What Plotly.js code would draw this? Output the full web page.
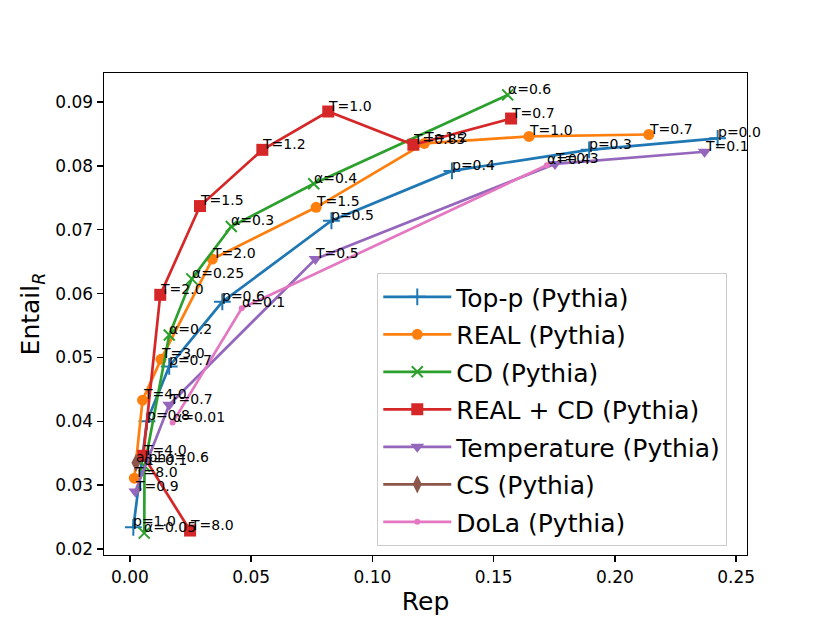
<!DOCTYPE html>
<html>
<head>
<meta charset="utf-8">
<script src="https://cdn.plot.ly/plotly-3.0.1.min.js"></script>
<style>html,body{margin:0;padding:0;background:#fff;}#chart{width:830px;height:623px;}</style>
</head>
<body>
<div id="chart"></div>
<script>
// ---- data (Rep, Entail_R) ----
const topP_x = [0.0014, 0.0070, 0.0162, 0.0381, 0.0831, 0.1328, 0.1894, 0.2424];
const topP_y = [0.0234, 0.0400, 0.0486, 0.0587, 0.0714, 0.0792, 0.0825, 0.0843];
const topP_labels = ["p=1.0", "p=0.8", "p=0.7", "p=0.6", "p=0.5", "p=0.4", "p=0.3", "p=0.0"];

const real_x = [0.0018, 0.0052, 0.0128, 0.0340, 0.0768, 0.1214, 0.1646, 0.2140];
const real_y = [0.0311, 0.0433, 0.0497, 0.0654, 0.0735, 0.0835, 0.0846, 0.0849];
const real_labels = ["T=8.0", "T=4.0", "T=3.0", "T=2.0", "T=1.5", "T=1.2", "T=1.0", "T=0.7"];

const cd_x = [0.0059, 0.0060, 0.0162, 0.0255, 0.0418, 0.0758, 0.1558];
const cd_y = [0.0225, 0.0330, 0.0535, 0.0623, 0.0705, 0.0772, 0.0911];
const cd_labels = ["α=0.05", "α=0.1", "α=0.2", "α=0.25", "α=0.3", "α=0.4", "α=0.6"];

const realcd_x = [0.0248, 0.0055, 0.0125, 0.0289, 0.0546, 0.0818, 0.1169, 0.1572];
const realcd_y = [0.0229, 0.0346, 0.0598, 0.0737, 0.0825, 0.0885, 0.0833, 0.0874];
const realcd_labels = ["T=8.0", "T=4.0", "T=2.0", "T=1.5", "T=1.2", "T=1.0", "T=0.85", "T=0.7"];

const temp_x = [0.0022, 0.0162, 0.0765, 0.1753, 0.2370];
const temp_y = [0.0290, 0.0426, 0.0654, 0.0803, 0.0822];
const temp_labels = ["T=0.9", "T=0.7", "T=0.5", "T=0.3", "T=0.1"];

const cs_x = [0.0025];
const cs_y = [0.0335];
const cs_labels = ["alpha=0.6"];

const dola_x = [0.0176, 0.0461, 0.1719];
const dola_y = [0.0398, 0.0577, 0.0801];
const dola_labels = ["α=0.01", "α=0.1", "α=0.4"];

const seriesNames = ["Top-p (Pythia)", "REAL (Pythia)", "CD (Pythia)", "REAL + CD (Pythia)",
                     "Temperature (Pythia)", "CS (Pythia)", "DoLa (Pythia)"];

const xTicks = [0.00, 0.05, 0.10, 0.15, 0.20, 0.25];
const yTicks = [0.02, 0.03, 0.04, 0.05, 0.06, 0.07, 0.08, 0.09];

// ---- styling ----
const series = [
  {x: topP_x, y: topP_y, labels: topP_labels, color: "#1f77b4", symbol: "cross-thin", size: 12, lw: 2},
  {x: real_x, y: real_y, labels: real_labels, color: "#ff7f0e", symbol: "circle", size: 11, lw: 0},
  {x: cd_x, y: cd_y, labels: cd_labels, color: "#2ca02c", symbol: "x-thin", size: 11, lw: 2},
  {x: realcd_x, y: realcd_y, labels: realcd_labels, color: "#d62728", symbol: "square", size: 12, lw: 0},
  {x: temp_x, y: temp_y, labels: temp_labels, color: "#9467bd", symbol: "triangle-down", size: 12, lw: 0},
  {x: cs_x, y: cs_y, labels: cs_labels, color: "#8c564b", symbol: "diamond-tall", size: 13, lw: 0},
  {x: dola_x, y: dola_y, labels: dola_labels, color: "#e377c2", symbol: "circle", size: 6, lw: 0}
];

const traces = series.map((s, i) => ({
  type: "scatter",
  mode: "lines+markers",
  name: seriesNames[i],
  legendgroup: "g" + i,
  x: s.x, y: s.y,
  line: {color: s.color, width: 2.7},
  marker: {color: s.color, symbol: s.symbol, size: s.size,
           line: {color: s.color, width: s.lw}},
  hoverinfo: "skip"
}));

const annotations = [];
series.forEach(s => {
  s.labels.forEach((lab, j) => {
    annotations.push({
      x: s.x[j], y: s.y[j], xref: "x", yref: "y",
      text: lab, showarrow: false,
      xanchor: "left", yanchor: "bottom",
      xshift: -2, yshift: -4,
      font: {family: "DejaVu Sans", size: 14, color: "#000"}
    });
  });
});

const layout = {
  width: 830, height: 623,
  paper_bgcolor: "#fff", plot_bgcolor: "#fff",
  margin: {l: 104, r: 83, t: 73, b: 68, pad: 0},
  font: {family: "DejaVu Sans", color: "#000"},
  showlegend: true,
  xaxis: {
    range: [-0.0107, 0.2545],
    tickvals: xTicks, ticktext: xTicks.map(v => v.toFixed(2)),
    ticks: "outside", ticklen: 6, tickwidth: 1.4, tickcolor: "#000",
    showline: true, linecolor: "#000", linewidth: 1.4, mirror: true,
    showgrid: false, zeroline: false,
    tickfont: {family: "DejaVu Sans", size: 17, color: "#000"},
    title: {text: "Rep", font: {family: "DejaVu Sans", size: 25, color: "#000"}, standoff: 6}
  },
  yaxis: {
    range: [0.01907, 0.09453],
    tickvals: yTicks, ticktext: yTicks.map(v => v.toFixed(2)),
    ticks: "outside", ticklen: 6, tickwidth: 1.4, tickcolor: "#000",
    showline: true, linecolor: "#000", linewidth: 1.4, mirror: true,
    showgrid: false, zeroline: false,
    tickfont: {family: "DejaVu Sans", size: 17, color: "#000"},
    title: {text: "Entail<sub><i>R</i></sub>", font: {family: "DejaVu Sans", size: 25, color: "#000"}, standoff: 8}
  },
  legend: {
    x: 0.425, y: 0.585, xanchor: "left", yanchor: "top",
    bgcolor: "rgba(255,255,255,0.8)", bordercolor: "#cccccc", borderwidth: 1,
    font: {family: "DejaVu Sans", size: 25, color: "#000"},
    traceorder: "grouped", tracegroupgap: 2, itemwidth: 68
  },
  annotations: annotations
};

Plotly.newPlot("chart", traces, layout, {displayModeBar: false, staticPlot: true});
</script>
</body>
</html>
